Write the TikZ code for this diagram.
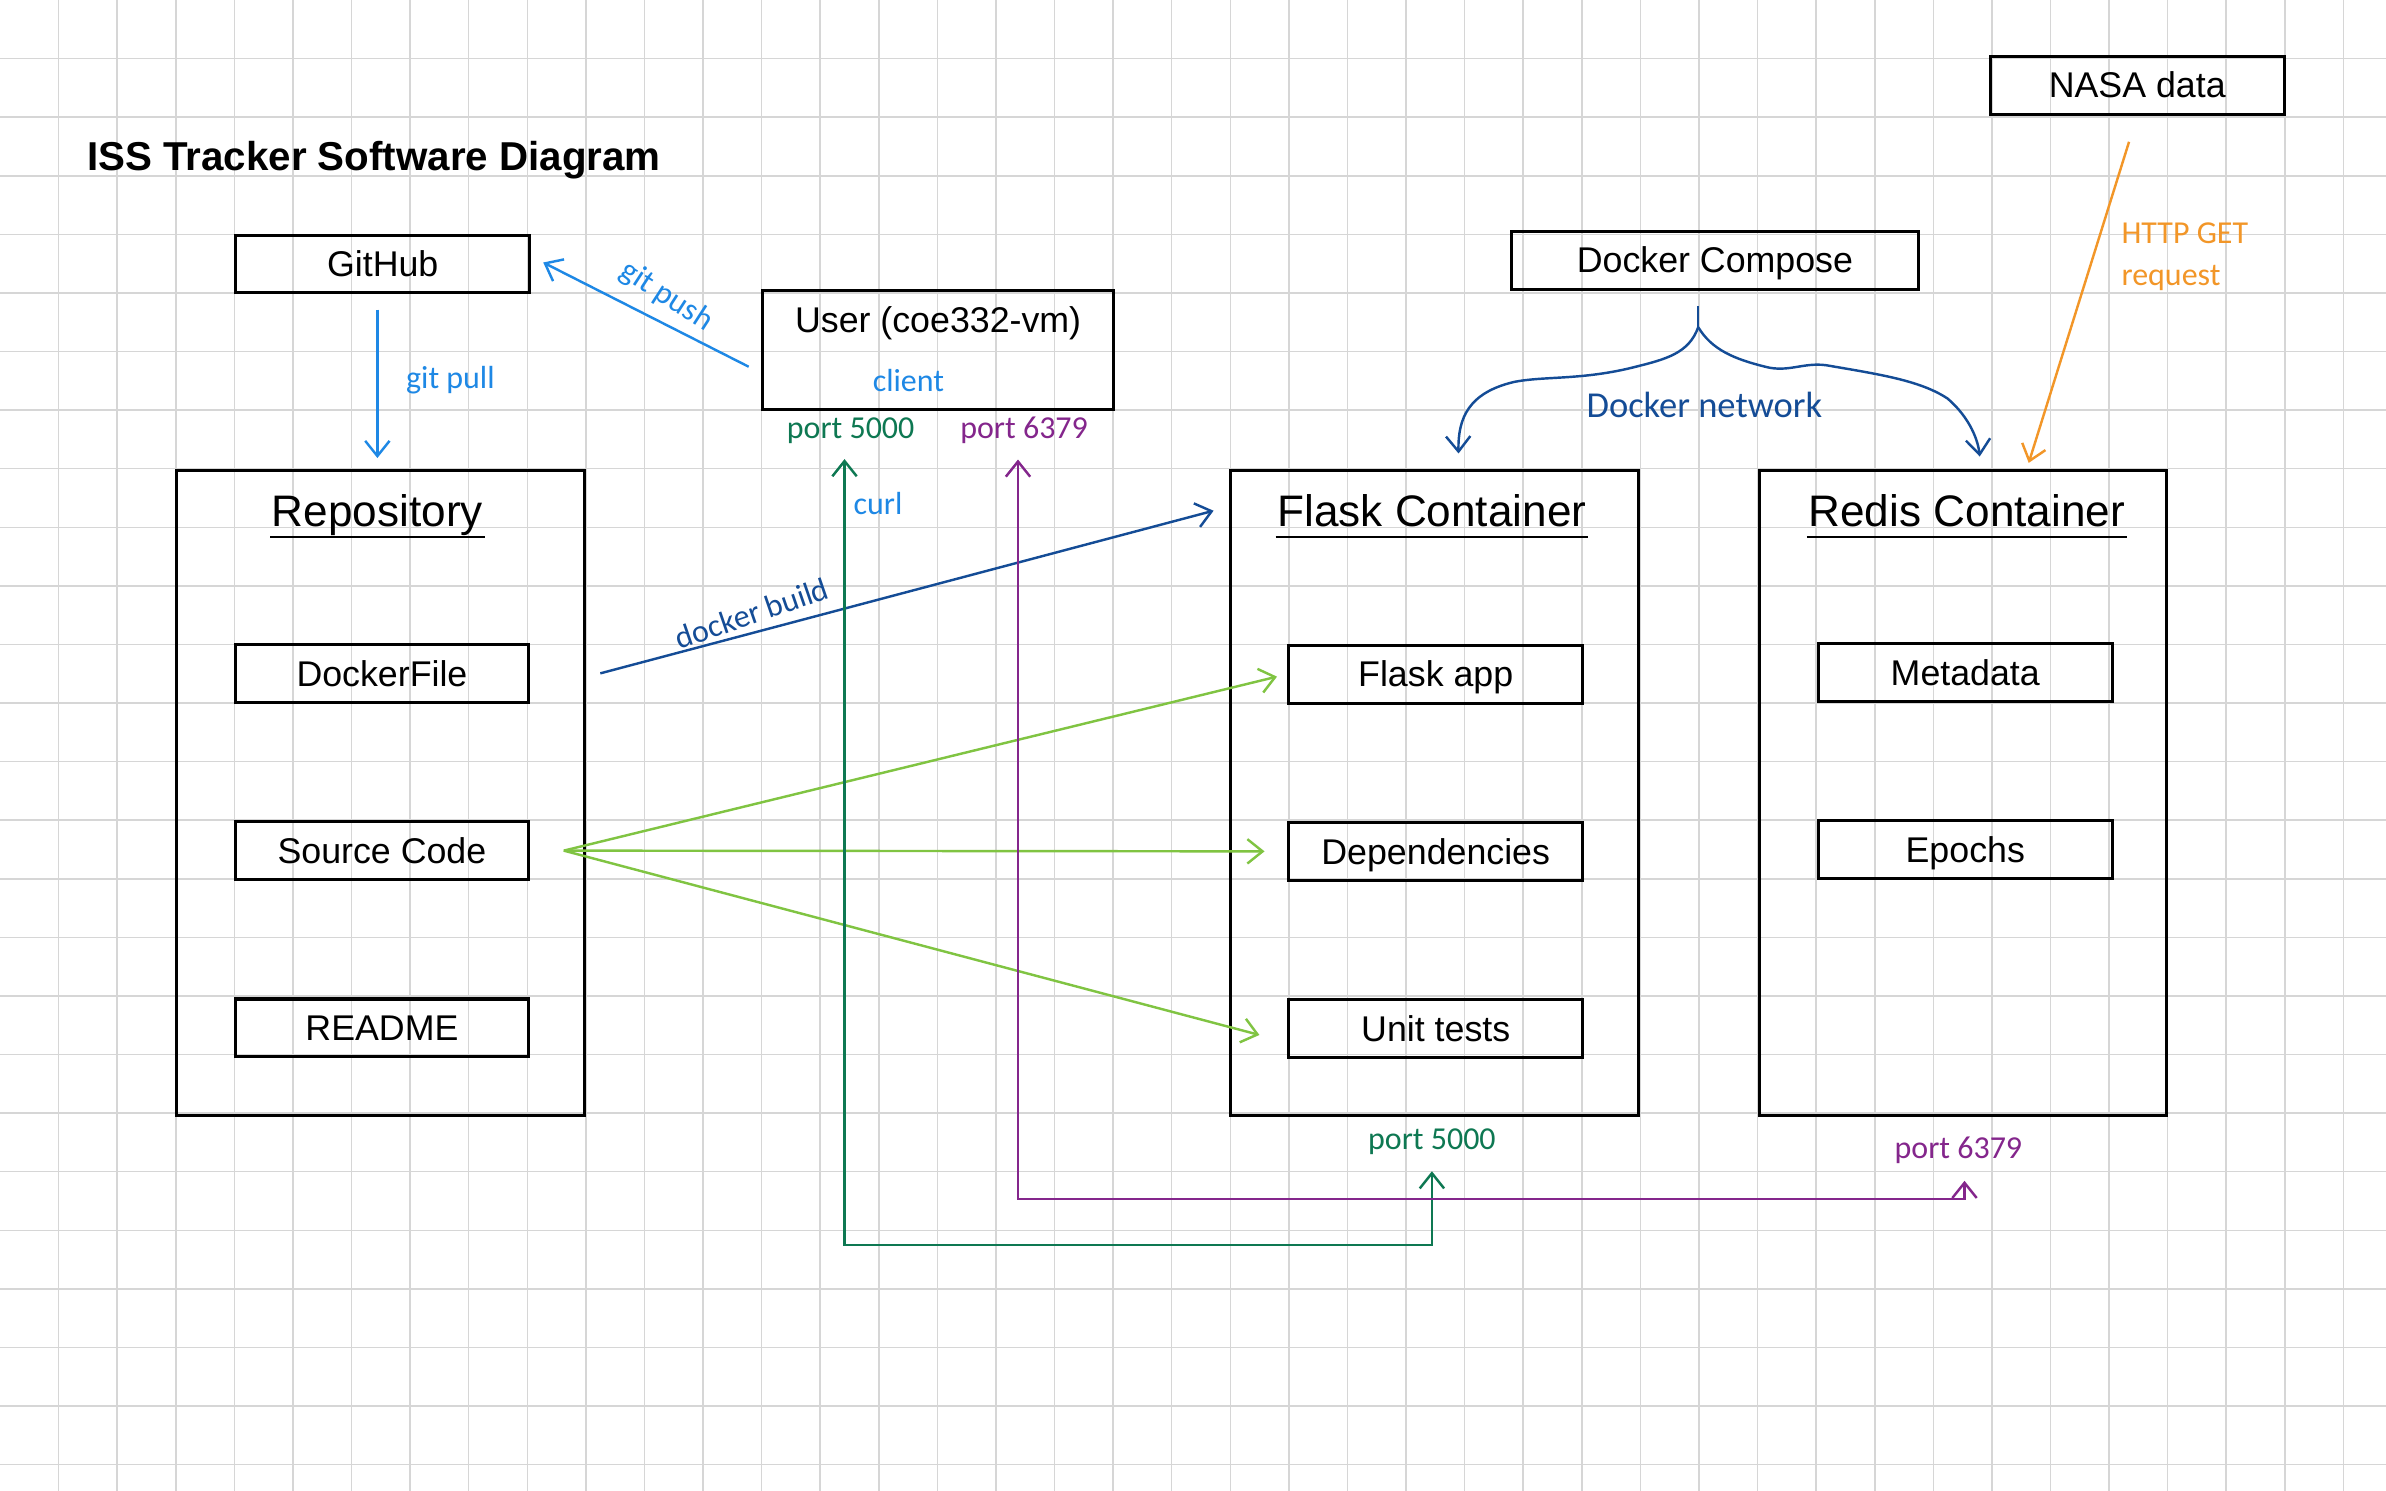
\documentclass[tikz,border=0pt]{standalone}
\usepackage{fontspec}
\setmainfont{Liberation Sans}
\newfontfamily\handfont{Carlito}
\usepackage[dvipsnames]{xcolor}
\usetikzlibrary{arrows.meta,positioning}

\definecolor{gridgray}{RGB}{214,214,214}
\definecolor{pushblue}{RGB}{30,136,229}
\definecolor{buildblue}{RGB}{20,76,150}
\definecolor{srcgreen}{RGB}{128,196,66}
\definecolor{portteal}{RGB}{14,120,82}
\definecolor{portpurple}{RGB}{132,38,140}
\definecolor{getorange}{RGB}{242,150,40}

\begin{document}
\begin{tikzpicture}[x=1pt,y=-1pt,>={Straight Barb[length=10pt,width=16pt]},node distance=116.5pt,
    box node/.style={draw,line width=2pt,minimum width=193pt,minimum height=38pt,inner sep=0pt,text height=16.8pt,text depth=0pt,font=\fontsize{23.5}{28}\selectfont},
    container/.style={draw,line width=2pt,minimum width=268pt,minimum height=424pt},
    title node/.style={anchor=base,inner sep=1pt,font=\fontsize{29}{34}\selectfont},
    hand/.style={inner sep=2pt,font=\handfont\fontsize{21}{28}\selectfont},
    link/.style={line width=1.6pt}]

                \path[use as bounding box] (0,0) rectangle (1568,979.8);
                \fill[white] (0,0) rectangle (1568,979.8);
                \foreach \gx in {1,...,40} \draw[gridgray,line width=1pt] (\gx*38.5,0) -- (\gx*38.5,979.8);
                \foreach \gy in {1,...,25} \draw[gridgray,line width=1pt] (0,\gy*38.5) -- (1568,\gy*38.5);

                \node[anchor=base west,inner sep=0pt,font=\bfseries\fontsize{26.5}{30}\selectfont] (title) at (57,112) {ISS Tracker Software Diagram};

                \node[box node] (nasa) at (1404.5,56) {NASA data};
                \node[box node] (github) at (251.5,173.5) {GitHub};
                \node[box node,minimum width=268pt] (compose) at (1127,171) {Docker Compose};
                \node[draw,line width=2pt,minimum width=231pt,minimum height=78pt] (user) at (616.5,230) {};
                \node[font=\fontsize{23.5}{28}\selectfont] (usertext) at (616.5,212.5) {User (coe332-vm)};
                \node[hand,pushblue] (client) at (597,250) {client};

                \node[container] (repo) at (250,521) {};
                \node[container] (flask) at (942.5,521) {};
                \node[container] (redis) at (1290,521) {};

                \node[title node] (repotitle) at (248,346) {Repository};
                \node[title node] (flasktitle) at (941,346) {Flask Container};
                \node[title node] (redistitle) at (1292.5,346) {Redis Container};

                \node[box node] (dockerfile) at (251,442.5) {DockerFile};
                \node[box node] (source) [below of = dockerfile] {Source Code};
                \node[box node] (readme) [below of = source] {README};
                \node[box node] (flaskapp) at (943.5,443) {Flask app};
                \node[box node] (deps) [below of = flaskapp] {Dependencies};
                \node[box node] (tests) [below of = deps] {Unit tests};
                \node[box node] (metadata) at (1291.5,442) {Metadata};
                \node[box node] (epochs) [below of = metadata] {Epochs};

                \node[hand,pushblue] (pulllabel) at (296,250) {git pull};
                \node[hand,pushblue,rotate=-33] (pushlabel) at (438,195) {git push};
                \node[hand,buildblue,rotate=19] (buildlabel) at (494,403) {docker build};
                \node[hand,pushblue] (curllabel) at (577,331) {curl};
                \node[hand,portteal] (uport5000) at (559,283) {port 5000};
                \node[hand,portpurple] (uport6379) at (673,283) {port 6379};
                \node[hand,portteal] (fport5000) at (941,750) {port 5000};
                \node[hand,portpurple] (rport6379) at (1287,756) {port 6379};
                \node[hand,buildblue,font=\handfont\fontsize{24}{28}\selectfont] (netlabel) at (1120,266) {Docker network};
                \node[hand,getorange,align=left,anchor=north west] (getlabel) at (1392,144) {HTTP GET\\request};

                \coordinate (fan) at ([xshift=22pt]source.east);
                \coordinate (tealcorner) at (941,818);
                \coordinate (purplecorner) at (1291,788);
                \coordinate (netsplit) at (1116,215);

                \draw[line width=1.5pt] ([yshift=-7pt]repotitle.base west) -- ([yshift=-7pt]repotitle.base east);
                \draw[line width=1.5pt] ([yshift=-7pt]flasktitle.base west) -- ([yshift=-7pt]flasktitle.base east);
                \draw[line width=1.5pt] ([yshift=-7pt]redistitle.base west) -- ([yshift=-7pt]redistitle.base east);

                \draw[link,pushblue,->,shorten <=10pt,shorten >=7pt] ([xshift=-3.5pt]github.south) -- ([xshift=-3.5pt]github.south |- repo.north);
                \draw[link,pushblue,->] ([xshift=-8pt,yshift=-11pt]user.west) -- ([xshift=8pt,yshift=1pt]github.east);
                \draw[link,buildblue,->] ([xshift=46pt]dockerfile.east) -- ([xshift=-10pt]flask.west |- flasktitle.center);
                \draw[link,srcgreen,->,shorten >=7pt] (fan) -- (flaskapp.west);
                \draw[link,srcgreen,->,shorten >=15pt] (fan) -- (deps.west);
                \draw[link,srcgreen,->,shorten >=19pt] (fan) -- ([yshift=-9pt]tests.west);
                \draw[link,portteal,<->,shorten <=8pt,shorten >=9pt] ([xshift=-4pt]uport5000.south) |- (tealcorner) -- (tealcorner |- fport5000.south);
                \draw[link,portpurple,<->,shorten <=8pt,shorten >=9pt] ([xshift=-4pt]uport6379.south) |- (purplecorner) -- (purplecorner |- rport6379.south);
                \draw[link,getorange,->,shorten <=18pt,shorten >=4pt] (nasa.south) -- ([xshift=42pt]redis.north);
                \draw[link,buildblue] ([xshift=-11pt,yshift=-10pt]compose.south) -- (netsplit);
                \draw[link,buildblue,->] (netsplit) .. controls (1110,232) and (1095,236) .. (1075,241) .. controls (1040,250) and (1015,247) .. (995,251) .. controls (965,258) and (958,275) .. ([xshift=16pt,yshift=10pt]flask.north);
                \draw[link,buildblue,->] (netsplit) .. controls (1125,230) and (1140,236) .. (1160,241) .. controls (1175,245) and (1185,238) .. (1200,240) .. controls (1235,246) and (1262,250) .. (1280,262) .. controls (1295,275) and (1300,290) .. ([xshift=11pt,yshift=8pt]redis.north);

                ;
            \end{tikzpicture}
\end{document}
